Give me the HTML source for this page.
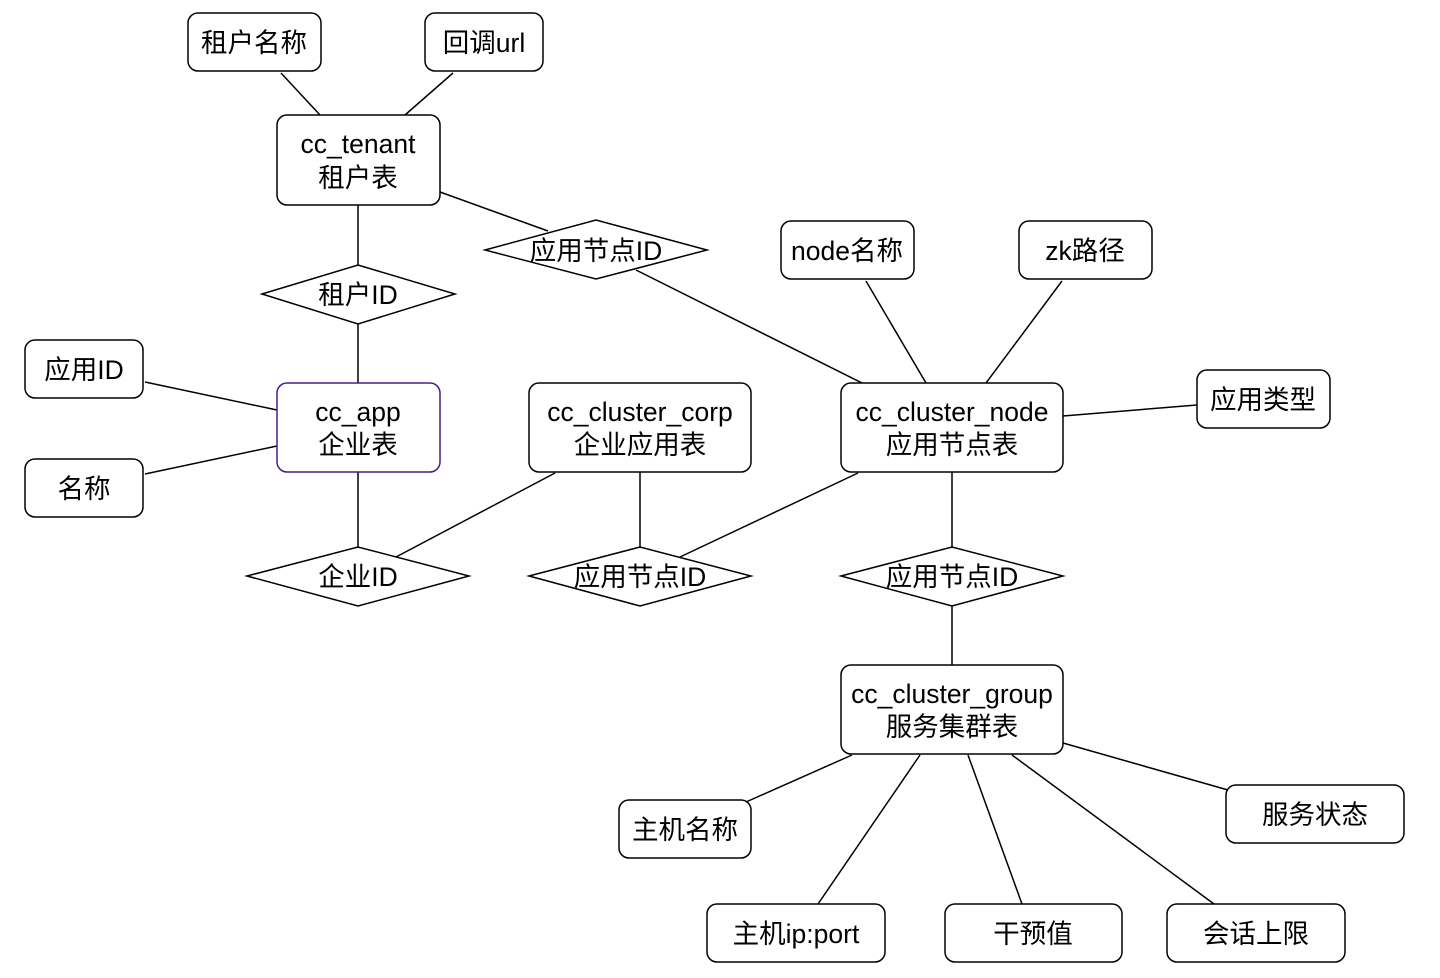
<!DOCTYPE html>
<html><head><meta charset="utf-8"><style>
html,body{margin:0;padding:0;background:#fff;width:1440px;height:978px;overflow:hidden}
text{font-family:"Liberation Sans","Noto Sans CJK SC",sans-serif;font-size:26.5px;fill:#000}
</style></head><body>
<svg width="1440" height="978" viewBox="0 0 1440 978" xmlns="http://www.w3.org/2000/svg">
<g stroke="#000" stroke-width="1.5" fill="none">
<line x1="281" y1="73" x2="320" y2="115"/>
<line x1="453" y1="73" x2="405" y2="115"/>
<line x1="358" y1="205" x2="358" y2="265"/>
<line x1="358" y1="324" x2="358" y2="383"/>
<line x1="440" y1="192" x2="548" y2="231"/>
<line x1="636" y1="270" x2="862" y2="383"/>
<line x1="866" y1="281" x2="926" y2="383"/>
<line x1="1062" y1="281" x2="986" y2="383"/>
<line x1="1063" y1="416" x2="1197" y2="405"/>
<line x1="145" y1="382" x2="277" y2="410"/>
<line x1="145" y1="474" x2="277" y2="446"/>
<line x1="358" y1="472" x2="358" y2="547"/>
<line x1="555" y1="473" x2="396" y2="557"/>
<line x1="640" y1="472" x2="640" y2="547"/>
<line x1="858" y1="473" x2="680" y2="557"/>
<line x1="952" y1="472" x2="952" y2="547"/>
<line x1="952" y1="606" x2="952" y2="665"/>
<line x1="852" y1="755" x2="746" y2="802"/>
<line x1="920" y1="755" x2="818" y2="904"/>
<line x1="968" y1="755" x2="1022" y2="904"/>
<line x1="1012" y1="755" x2="1214" y2="904"/>
<line x1="1063" y1="743" x2="1228" y2="790"/>
</g>
<g stroke="#000" stroke-width="1.5" fill="#fff">
<rect x="188" y="13" width="133" height="58" rx="10"/>
<rect x="425" y="13" width="118" height="58" rx="10"/>
<rect x="277" y="115" width="163" height="90" rx="10"/>
<rect x="781" y="221" width="133" height="58" rx="10"/>
<rect x="1019" y="221" width="133" height="58" rx="10"/>
<rect x="25" y="340" width="118" height="58" rx="10"/>
<rect x="277" y="383" width="163" height="89" rx="10" stroke="#4b1a8a"/>
<rect x="529" y="383" width="222" height="89" rx="10"/>
<rect x="841" y="383" width="222" height="89" rx="10"/>
<rect x="1197" y="370" width="133" height="58" rx="10"/>
<rect x="25" y="459" width="118" height="58" rx="10"/>
<rect x="841" y="665" width="222" height="89" rx="10"/>
<rect x="619" y="800" width="132" height="58" rx="10"/>
<rect x="1226" y="785" width="178" height="58" rx="10"/>
<rect x="707" y="904" width="178" height="58" rx="10"/>
<rect x="945" y="904" width="177" height="58" rx="10"/>
<rect x="1167" y="904" width="178" height="58" rx="10"/>
<polygon points="485,250 596,220 707,250 596,279"/>
<polygon points="262,294 358,265 455,294 358,324"/>
<polygon points="247,576 358,547 469,576 358,606"/>
<polygon points="529,576 640,547 751,576 640,606"/>
<polygon points="841,576 952,547 1063,576 952,606"/>
</g>
<g text-anchor="middle">
<text x="254" y="52">租户名称</text>
<text x="484" y="52">回调url</text>
<text x="358" y="153">cc_tenant</text>
<text x="358" y="187">租户表</text>
<text x="596" y="260">应用节点ID</text>
<text x="358" y="304">租户ID</text>
<text x="847" y="260">node名称</text>
<text x="1085" y="260">zk路径</text>
<text x="84" y="379">应用ID</text>
<text x="358" y="421">cc_app</text>
<text x="358" y="454">企业表</text>
<text x="640" y="421">cc_cluster_corp</text>
<text x="640" y="454">企业应用表</text>
<text x="952" y="421">cc_cluster_node</text>
<text x="952" y="454">应用节点表</text>
<text x="1263" y="409">应用类型</text>
<text x="84" y="498">名称</text>
<text x="358" y="586">企业ID</text>
<text x="640" y="586">应用节点ID</text>
<text x="952" y="586">应用节点ID</text>
<text x="952" y="703">cc_cluster_group</text>
<text x="952" y="736">服务集群表</text>
<text x="685" y="839">主机名称</text>
<text x="1315" y="824">服务状态</text>
<text x="796" y="943">主机ip:port</text>
<text x="1033" y="943">干预值</text>
<text x="1256" y="943">会话上限</text>
</g>
</svg>
</body></html>
